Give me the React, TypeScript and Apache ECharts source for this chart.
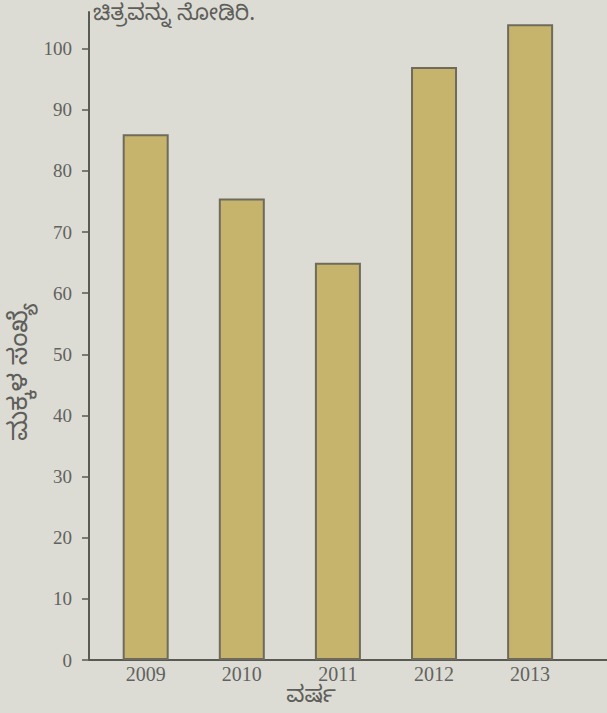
import React, { useEffect, useRef } from "react";
import * as echarts from "echarts";

const years = [2009, 2010, 2011, 2012, 2013];
const children = [86, 75.5, 65, 97, 104];
const yTicks = [0, 10, 20, 30, 40, 50, 60, 70, 80, 90, 100];
const yAxisName = "ಮಕ್ಕಳ ಸಂಖ್ಯೆ";
const xAxisName = "ವರ್ಷ";
const caption = "ಚಿತ್ರವನ್ನು ನೋಡಿರಿ.";

export default function App() {
  const ref = useRef<HTMLDivElement>(null);
  useEffect(() => {
    document.body.style.margin = "0";
    if (!ref.current) return;
    const chart = echarts.init(ref.current, null, { renderer: "svg" });
    const serif = "'Liberation Serif', 'DejaVu Serif', serif";
    const kn = "'Noto Sans Kannada', 'Noto Sans', sans-serif";
    chart.setOption({
      animation: false,
      backgroundColor: "#dcdcd5",
      graphic: [
        {
          type: "text",
          x: 93,
          y: 17,
          style: { text: caption, fontSize: 22, lineHeight: 22, fill: "#5e5e5a", fontFamily: kn, verticalAlign: "middle" },
        },
        {
          type: "text",
          x: 23,
          y: 372,
          rotation: Math.PI / 2,
          style: { text: yAxisName, fontSize: 26, fill: "#5e5e5a", fontFamily: kn, align: "center", verticalAlign: "middle" },
        },
        {
          type: "text",
          x: 311,
          y: 698,
          style: { text: xAxisName, fontSize: 23, lineHeight: 23, fill: "#5e5e5a", fontFamily: kn, align: "center", verticalAlign: "middle" },
        },
      ],
      grid: { left: 89, right: -2, top: 12, bottom: 53 },
      xAxis: {
        type: "value",
        min: 2008.41,
        max: 2013.8,
        splitLine: { show: false },
        axisLine: { show: true, lineStyle: { color: "#5a5a55", width: 2 } },
        axisTick: { show: false },
        axisLabel: {
          customValues: years,
          formatter: (v: number) => String(v),
          color: "#62625e",
          fontFamily: serif,
          fontSize: 20,
          margin: 4,
        },
      },
      yAxis: {
        type: "value",
        min: 0,
        max: 106,
        splitLine: { show: false },
        axisLine: { show: true, lineStyle: { color: "#5a5a55", width: 2 } },
        axisTick: { show: true, customValues: yTicks, length: 7, lineStyle: { color: "#5a5a55", width: 1.5 } },
        axisLabel: {
          customValues: yTicks,
          color: "#62625e",
          fontFamily: serif,
          fontSize: 19,
          margin: 17,
        },
      },
      series: [
        {
          type: "bar",
          barWidth: 46,
          data: years.map((y, i) => [y, children[i]]),
          itemStyle: { color: "#c6b46c", borderColor: "#6e6b5c", borderWidth: 2 },
        },
      ],
    });
    return () => chart.dispose();
  }, []);
  return <div ref={ref} style={{ width: 607, height: 713 }} />;
}
